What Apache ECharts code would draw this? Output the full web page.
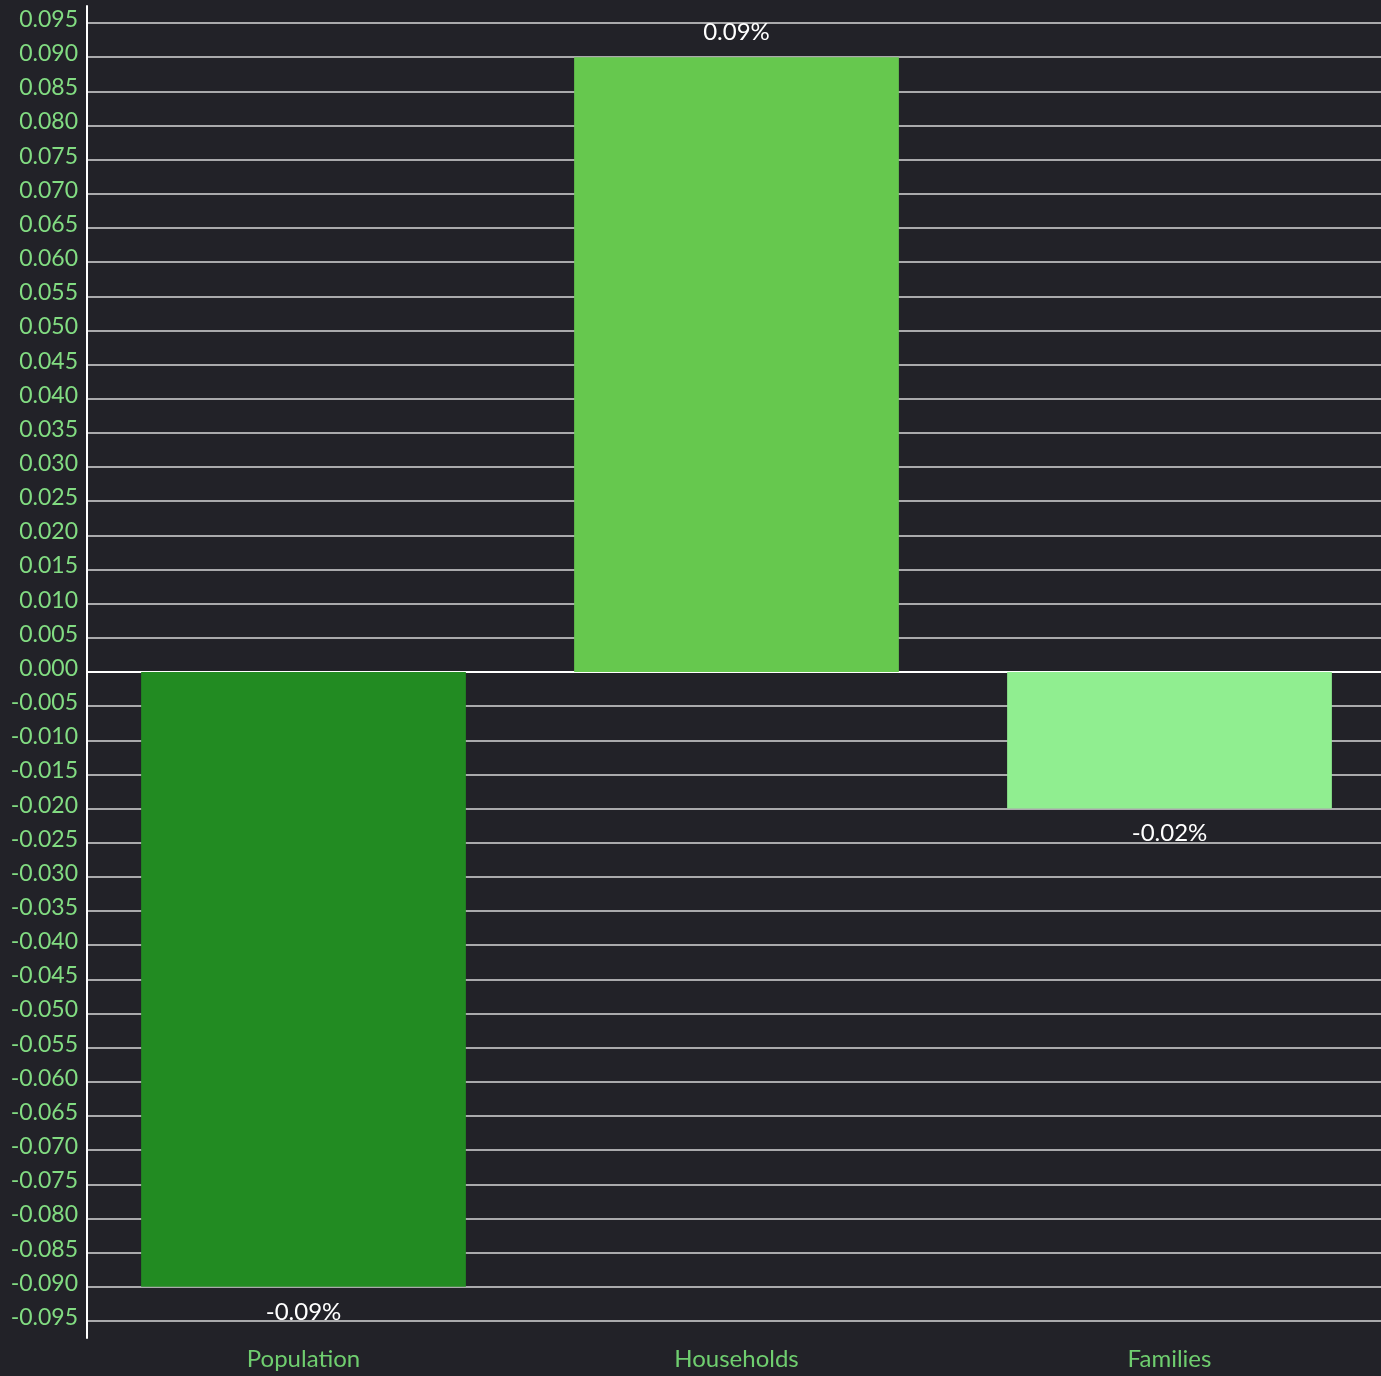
<!DOCTYPE html>
<html>
<head>
<meta charset="utf-8">
<script src="https://cdn.jsdelivr.net/npm/echarts@6/dist/echarts.min.js"></script>
<style>
  html, body { margin: 0; padding: 0; background: #222228; overflow: hidden; }
  #chart { width: 1386px; height: 1376px; }
</style>
</head>
<body>
<div id="chart"></div>
<script>
// data
var categories = ["Population", "Households", "Families"];
var changeValues = [-0.09, 0.09, -0.02];
var barColors = ["#228B22", "#66C84E", "#90EE90"];
var yTicks = [
  -0.095, -0.09, -0.085, -0.08, -0.075, -0.07, -0.065, -0.06, -0.055, -0.05,
  -0.045, -0.04, -0.035, -0.03, -0.025, -0.02, -0.015, -0.01, -0.005, 0,
  0.005, 0.01, 0.015, 0.02, 0.025, 0.03, 0.035, 0.04, 0.045, 0.05,
  0.055, 0.06, 0.065, 0.07, 0.075, 0.08, 0.085, 0.09, 0.095
];

var chart = echarts.init(document.getElementById("chart"));
var option = {
  backgroundColor: "#222228",
  animation: false,
  grid: {
    left: 87,
    right: 0,
    top: 6,
    bottom: 38
  },
  xAxis: {
    type: "category",
    data: categories,
    axisLine: { lineStyle: { color: "#ffffff", width: 2 } },
    axisTick: { show: false },
    axisLabel: {
      color: "#6fce6f",
      fontFamily: "Lato",
      fontSize: 24,
      margin: 9
    }
  },
  yAxis: {
    type: "value",
    min: -0.0975,
    max: 0.0975,
    axisLine: { show: true, lineStyle: { color: "#ffffff", width: 2 } },
    axisTick: { show: false, customValues: yTicks },
    axisLabel: {
      customValues: yTicks,
      color: "#82dc82",
      fontFamily: "Lato",
      fontSize: 23,
      margin: 9,
      verticalAlign: "bottom",
      lineHeight: 7,
      formatter: function (v) { return v.toFixed(3); }
    },
    splitLine: { show: true, lineStyle: { color: "#d8d8d8", width: 1.5 } }
  },
  series: [
    {
      type: "bar",
      barWidth: "75%",
      data: changeValues.map(function (v, i) {
        return { value: v, itemStyle: { color: barColors[i] } };
      }),
      label: {
        show: true,
        position: "outside",
        distance: 13,
        color: "#ffffff",
        fontFamily: "Lato",
        fontSize: 24,
        formatter: function (p) { return p.value.toFixed(2) + "%"; }
      }
    }
  ]
};
chart.setOption(option);
</script>
</body>
</html>
